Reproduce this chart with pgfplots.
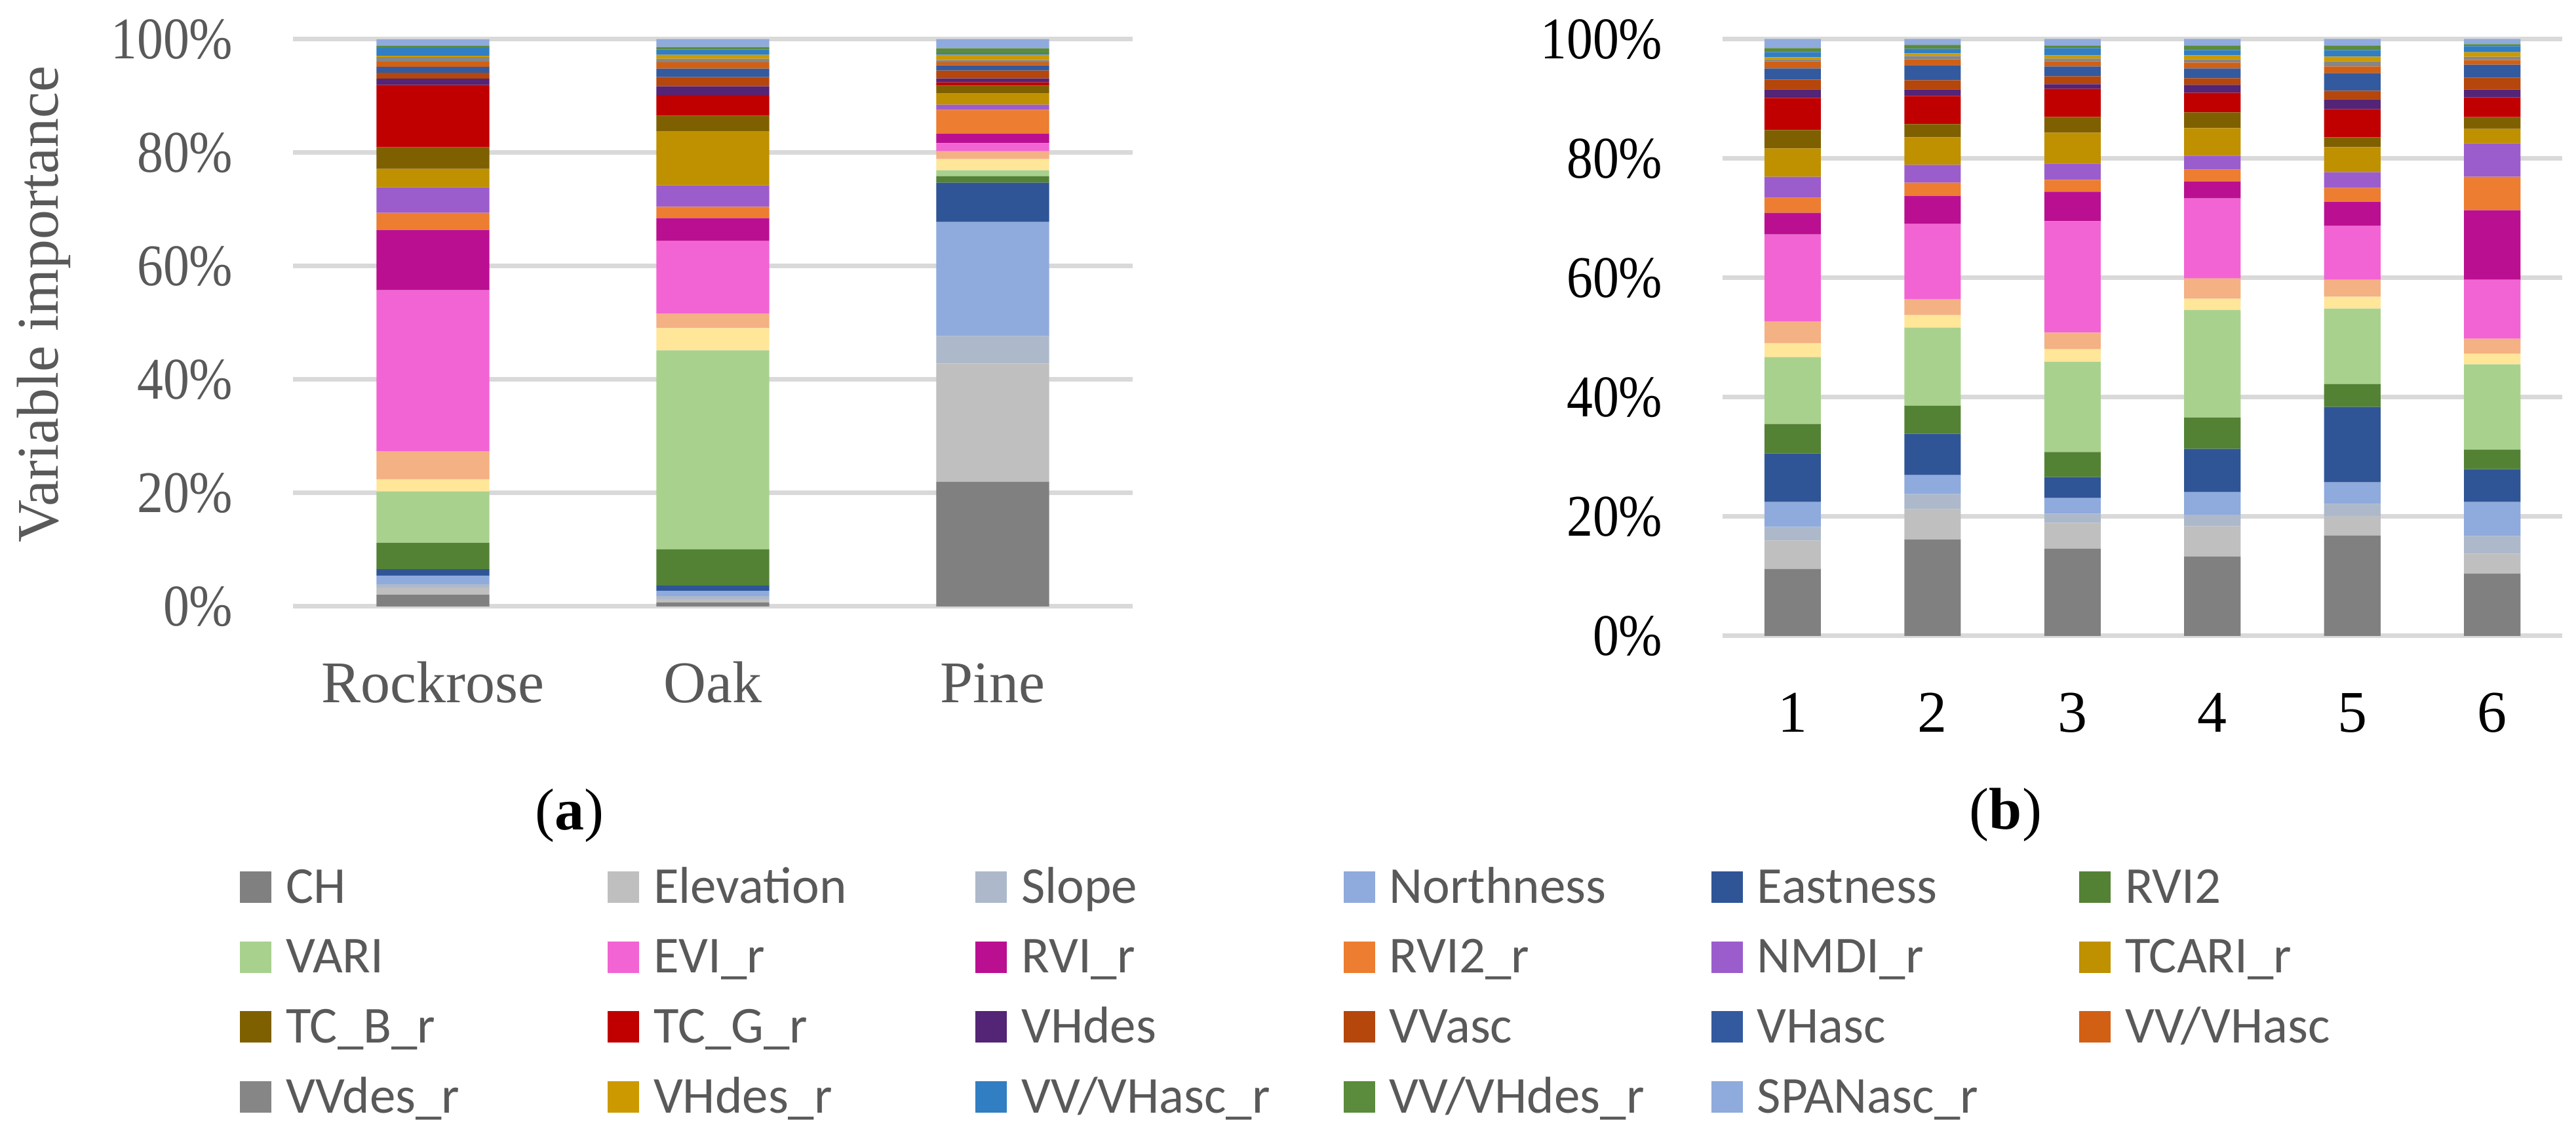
\documentclass[border=0pt]{standalone}
\usepackage{fontspec}
\setmainfont{Liberation Serif}
\newfontfamily\legfont{Carlito}
\usepackage{pgfplots}
\usepackage{pgfplotstable}
\pgfplotsset{compat=1.18}

% series colours, bottom of the stack first
\definecolor{cCH}{HTML}{808080}
\definecolor{cElev}{HTML}{BFBFBF}
\definecolor{cSlope}{HTML}{ADB9CA}
\definecolor{cNorth}{HTML}{8FAADC}
\definecolor{cEast}{HTML}{2F5597}
\definecolor{cRVItwo}{HTML}{548235}
\definecolor{cVARI}{HTML}{A9D18E}
\definecolor{cYel}{HTML}{FFE699}
\definecolor{cPeach}{HTML}{F4B183}
\definecolor{cEVIr}{HTML}{F264D3}
\definecolor{cRVIr}{HTML}{BB0F92}
\definecolor{cRVItwor}{HTML}{ED7D31}
\definecolor{cNMDIr}{HTML}{9B5DCC}
\definecolor{cTCARIr}{HTML}{BF9000}
\definecolor{cTCBr}{HTML}{7F6000}
\definecolor{cTCGr}{HTML}{C00000}
\definecolor{cVHdes}{HTML}{542476}
\definecolor{cVVasc}{HTML}{B5460C}
\definecolor{cVHasc}{HTML}{335A9F}
\definecolor{cVVVHasc}{HTML}{D26014}
\definecolor{cVVdesr}{HTML}{868686}
\definecolor{cVHdesr}{HTML}{CC9A00}
\definecolor{cVVVHascr}{HTML}{317EC2}
\definecolor{cVVVHdesr}{HTML}{5B8B3C}
\definecolor{cSPANr}{HTML}{8FAADC}
\definecolor{cGrid}{HTML}{D9D9D9}
\definecolor{cTxt}{HTML}{595959}

% (a) species
\pgfplotstableread{
x CH Elev Slope North East RVItwo VARI Yel Peach EVIr RVIr RVItwor NMDIr TCARIr TCBr TCGr VHdes VVasc VHasc VVVHasc VVdesr VHdesr VVVHascr VVVHdesr SPANr
0 2.07 1.26 0.61 1.50 1.14 4.63 9.05 2.19 4.87 28.44 10.64 3.00 4.51 3.24 3.81 10.98 1.12 1.04 1.04 0.92 0.81 0.23 1.39 0.35 1.16
1 0.69 0.57 0.57 0.93 0.93 6.38 35.08 3.94 2.51 12.83 4.05 2.00 3.78 9.48 2.77 3.66 1.54 1.62 1.50 1.12 0.62 0.69 0.92 0.46 1.39
2 21.97 20.86 4.84 20.11 6.94 1.16 1.04 1.97 1.39 1.39 1.73 4.16 0.92 1.97 1.39 0.58 0.69 1.39 0.92 0.54 0.39 0.92 0.31 0.85 1.62
}\tabA

% (b) classes 1-6
\pgfplotstableread{
x CH Elev Slope North East RVItwo VARI Yel Peach EVIr RVIr RVItwor NMDIr TCARIr TCBr TCGr VHdes VVasc VHasc VVVHasc VVdesr VHdesr VVVHascr VVVHdesr SPANr
1 11.25 4.72 2.31 4.17 8.14 4.94 11.21 2.31 3.62 14.62 3.63 2.53 3.52 4.73 3.08 5.38 1.43 1.65 1.87 1.21 0.33 0.33 0.88 0.66 1.54
2 16.19 5.06 2.52 3.19 6.92 4.73 13.07 2.09 2.64 12.64 4.73 2.20 2.97 4.62 2.20 4.73 1.10 1.54 2.53 0.99 0.55 0.44 0.77 0.66 0.99
3 14.65 4.29 1.54 2.64 3.52 4.18 15.16 2.09 2.75 18.68 4.95 1.98 2.75 5.16 2.64 4.73 0.77 1.32 1.65 0.88 0.44 0.55 1.21 0.44 1.10
4 13.33 5.06 1.87 3.84 7.26 5.27 18.02 1.87 3.41 13.41 2.86 1.98 2.31 4.62 2.64 3.30 1.32 1.10 1.65 0.99 0.55 0.66 0.88 0.77 1.10
5 16.85 3.19 2.08 3.63 12.64 3.84 12.64 1.98 2.86 9.01 4.07 2.31 2.64 4.18 1.65 4.73 1.65 1.43 2.97 1.10 0.88 0.77 1.10 0.77 1.10
6 10.48 3.29 2.97 5.71 5.50 3.30 14.28 1.76 2.53 9.89 11.65 5.60 5.60 2.42 1.98 3.30 1.32 1.98 2.20 0.77 0.55 0.77 0.99 0.33 0.88
}\tabB

\pgfplotsset{
  seg/.style={fill=#1, draw=none},
  imp/.style={
    ybar stacked, bar width=0.403,
    scale only axis, width=128.1pt, anchor=south west,
    ymin=0, ymax=100, enlargelimits=false,
    ytick={0,20,...,100},
    yticklabels={0\%,20\%,40\%,60\%,80\%,100\%},
    axis line style={draw=none}, tick style={draw=none},
    ymajorgrids, grid style={line width=0.7pt, cGrid},
    /pgf/number format/assume math mode=true,
    yticklabel style={anchor=east, inner sep=0pt, xshift=-9pt, xscale=0.885,
      font=\fontsize{9}{10}\selectfont},
    xticklabel style={anchor=base, inner sep=0pt, yshift=-14.7pt,
      font=\fontsize{9}{10}\selectfont},
  },
}

% one stacked bar per row of the table, CH at the bottom
\newcommand{\stackbars}[1]{%
  \addplot[seg=cCH] table[x=x,y=CH]{#1};
  \addplot[seg=cElev] table[x=x,y=Elev]{#1};
  \addplot[seg=cSlope] table[x=x,y=Slope]{#1};
  \addplot[seg=cNorth] table[x=x,y=North]{#1};
  \addplot[seg=cEast] table[x=x,y=East]{#1};
  \addplot[seg=cRVItwo] table[x=x,y=RVItwo]{#1};
  \addplot[seg=cVARI] table[x=x,y=VARI]{#1};
  \addplot[seg=cYel, forget plot] table[x=x,y=Yel]{#1};
  \addplot[seg=cPeach, forget plot] table[x=x,y=Peach]{#1};
  \addplot[seg=cEVIr] table[x=x,y=EVIr]{#1};
  \addplot[seg=cRVIr] table[x=x,y=RVIr]{#1};
  \addplot[seg=cRVItwor] table[x=x,y=RVItwor]{#1};
  \addplot[seg=cNMDIr] table[x=x,y=NMDIr]{#1};
  \addplot[seg=cTCARIr] table[x=x,y=TCARIr]{#1};
  \addplot[seg=cTCBr] table[x=x,y=TCBr]{#1};
  \addplot[seg=cTCGr] table[x=x,y=TCGr]{#1};
  \addplot[seg=cVHdes] table[x=x,y=VHdes]{#1};
  \addplot[seg=cVVasc] table[x=x,y=VVasc]{#1};
  \addplot[seg=cVHasc] table[x=x,y=VHasc]{#1};
  \addplot[seg=cVVVHasc] table[x=x,y=VVVHasc]{#1};
  \addplot[seg=cVVdesr] table[x=x,y=VVdesr]{#1};
  \addplot[seg=cVHdesr] table[x=x,y=VHdesr]{#1};
  \addplot[seg=cVVVHascr] table[x=x,y=VVVHascr]{#1};
  \addplot[seg=cVVVHdesr] table[x=x,y=VVVHdesr]{#1};
  \addplot[seg=cSPANr] table[x=x,y=SPANr]{#1};
}
\newcommand{\legbox}[1]{\makebox[49.12pt][l]{#1}}

\begin{document}
\begin{tikzpicture}
\path[use as bounding box] (0,0) rectangle (393pt,172.8pt);

\begin{axis}[imp,
  at={(44.7pt,80.3pt)}, height=86.5pt,
  xmin=-0.5, xmax=2.5,
  xtick={0,1,2}, xticklabels={Rockrose,Oak,Pine},
  ticklabel style={text=cTxt},
  ylabel={Variable importance},
  ylabel style={at={(axis description cs:-0.2796,0.533)}, anchor=base,
    text=cTxt, font=\fontsize{9}{10}\selectfont},
  xlabel={(\textbf{a})},
  xlabel style={at={(axis description cs:0.3294,-0.3931)}, anchor=base,
    font=\fontsize{9}{10}\selectfont},
  legend columns=6,
  legend cell align=left,
  legend image code/.code={\fill[#1] (0pt,0pt) rectangle (4.8pt,4.8pt);},
  legend style={at={(axis description cs:-0.06323,-0.4590)}, anchor=north west,
    draw=none, fill=none, inner sep=0pt, outer sep=0pt,
    font=\legfont\fontsize{7.9}{9}\selectfont, text=cTxt,
    nodes={inner sep=0pt, text height=5.5pt, text depth=1.8pt, anchor=base west},
    /tikz/column sep=0pt,
    /tikz/every odd column/.append style={column sep=2.2pt},
    /tikz/row sep=3.37pt},
  legend entries={\legbox{CH},\legbox{Elevation},\legbox{Slope},\legbox{Northness},\legbox{Eastness},\legbox{RVI2},
    \legbox{VARI},\legbox{EVI\_r},\legbox{RVI\_r},\legbox{RVI2\_r},\legbox{NMDI\_r},\legbox{TCARI\_r},
    \legbox{TC\_B\_r},\legbox{TC\_G\_r},\legbox{VHdes},\legbox{VVasc},\legbox{VHasc},\legbox{VV/VHasc},
    \legbox{VVdes\_r},\legbox{VHdes\_r},\legbox{VV/VHasc\_r},\legbox{VV/VHdes\_r},\legbox{SPANasc\_r}},
]
\stackbars{\tabA}
\end{axis}

\begin{axis}[imp,
  at={(262.8pt,75.8pt)}, height=91pt,
  xmin=0.5, xmax=6.5,
  xtick={1,...,6}, xticklabels={1,2,3,4,5,6},
  xlabel={(\textbf{b})},
  xlabel style={at={(axis description cs:0.3372,-0.3242)}, anchor=base,
    font=\fontsize{9}{10}\selectfont},
]
\stackbars{\tabB}
\end{axis}
\end{tikzpicture}
\end{document}
